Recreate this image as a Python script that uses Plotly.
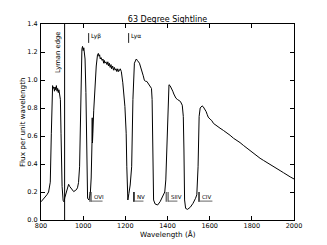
import plotly.graph_objects as go

# Spectrum
wavelength = [800, 812, 820, 828, 836, 844, 849, 852, 855, 858, 861, 864, 867, 870, 873, 876, 879, 882, 885, 888,
              892, 895, 900, 905, 909, 913, 917, 924, 931, 936, 942, 948, 955, 962, 967, 973, 978, 983,
              988, 991, 994, 997, 1000, 1003, 1006, 1009, 1013, 1016, 1021, 1027, 1034, 1038, 1041, 1042,
              1043, 1044, 1046, 1050, 1053, 1056, 1062, 1068, 1072, 1075, 1078, 1081, 1085, 1090, 1094, 1097,
              1100, 1103, 1108, 1113, 1117, 1120, 1124, 1128, 1132, 1135, 1140, 1144, 1148, 1152, 1156, 1160,
              1164, 1168, 1172, 1176, 1181, 1188, 1198, 1204, 1207, 1212, 1217, 1223, 1230, 1236, 1243, 1248,
              1252, 1257, 1262, 1267, 1271, 1276, 1280, 1285, 1290, 1296, 1302, 1307, 1310, 1315, 1320, 1324,
              1327, 1331, 1334, 1341, 1353, 1365, 1378, 1387, 1392, 1397, 1402, 1407, 1412, 1416, 1421, 1425,
              1430, 1435, 1440, 1448, 1455, 1461, 1470, 1475, 1478, 1481, 1486, 1495, 1508, 1521, 1533, 1539,
              1545, 1550, 1555, 1560, 1564, 1569, 1574, 1579, 1583, 1588, 1593, 1602, 1610, 1618, 1630, 1649,
              1665, 1681, 1697, 1713, 1728, 1744, 1760, 1776, 1792, 1807, 1823, 1839, 1855, 1871, 1887, 1902,
              1918, 1934, 1950, 1965, 1982, 2000]
flux = [0.13, 0.15, 0.165, 0.18, 0.20, 0.27, 0.62, 0.93, 0.96, 0.94, 0.95, 0.92, 0.95, 0.93, 0.96, 0.92, 0.94, 0.91, 0.93, 0.90,
        0.86, 0.62, 0.24, 0.14, 0.13, 0.16, 0.18, 0.22, 0.255, 0.24, 0.227, 0.22, 0.203, 0.21, 0.215, 0.23, 0.267, 0.38,
        0.86, 1.10, 1.22, 1.24, 1.21, 1.23, 1.19, 1.15, 0.91, 0.50, 0.155, 0.143, 0.19, 0.30, 0.45, 0.56,
        0.73, 0.55, 0.62, 0.78, 0.86, 1.00, 1.10, 1.18, 1.19, 1.17, 1.18, 1.15, 1.16, 1.14, 1.15, 1.12,
        1.14, 1.12, 1.13, 1.11, 1.13, 1.10, 1.12, 1.09, 1.11, 1.08, 1.10, 1.07, 1.09, 1.07, 1.08, 1.06,
        1.08, 1.06, 1.07, 1.08, 1.06, 0.98, 0.81, 0.62, 0.38, 0.143, 0.19, 0.25, 0.38, 0.86, 1.12, 1.14,
        1.15, 1.14, 1.13, 1.12, 1.10, 1.08, 1.05, 1.03, 1.00, 0.99, 0.99, 0.98, 0.975, 0.965, 0.955, 0.94,
        0.86, 0.50, 0.143, 0.115, 0.107, 0.131, 0.167, 0.20, 0.286, 0.50, 0.86, 0.966, 0.96, 0.95, 0.935, 0.92,
        0.90, 0.88, 0.87, 0.86, 0.855, 0.847, 0.82, 0.74, 0.50, 0.143, 0.083, 0.076, 0.091, 0.119, 0.155, 0.18,
        0.38, 0.74, 0.80, 0.81, 0.815, 0.81, 0.80, 0.79, 0.775, 0.755, 0.735, 0.72, 0.71, 0.69, 0.675, 0.656,
        0.64, 0.625, 0.605, 0.584, 0.57, 0.553, 0.533, 0.513, 0.495, 0.477, 0.46, 0.441, 0.426, 0.41, 0.395, 0.38,
        0.366, 0.353, 0.338, 0.322, 0.308, 0.293]

x_ticks = [800, 1000, 1200, 1400, 1600, 1800, 2000]
y_ticks = [0.0, 0.2, 0.4, 0.6, 0.8, 1.0, 1.2, 1.4]

# Annotated features
lyman_edge = 912.0
lyman_lines = ["Ly\u03b2", "Ly\u03b1"]
lyman_waves = [1026.0, 1215.7]
lyman_tick_range = [1.265, 1.335]
lyman_label_y = 1.315

doublet_names = ["OVI", "NV", "SIIV", "CIV"]
doublet_waves = [(1031.9, 1037.6), (1238.8, 1242.8), (1393.8, 1402.8), (1548.2, 1550.8)]
doublet_bar_end = [1092, 1286, 1447, 1613]
doublet_tick_range = [0.13, 0.20]
doublet_label_y = 0.165

fig = go.Figure()
fig.add_trace(go.Scatter(x=wavelength, y=flux, mode="lines",
                         line=dict(color="black", width=1), showlegend=False, hoverinfo="skip"))

shapes = [dict(type="line", xref="x", yref="paper", x0=lyman_edge, x1=lyman_edge, y0=0, y1=1,
               line=dict(color="black", width=1))]
annotations = [dict(x=lyman_edge - 3, y=1.2, xref="x", yref="y", text="Lyman edge", textangle=-90,
                    showarrow=False, xanchor="right", yanchor="middle",
                    font=dict(size=6.8, color="black", family="DejaVu Sans"))]

for name, w in zip(lyman_lines, lyman_waves):
    shapes.append(dict(type="line", xref="x", yref="y", x0=w, x1=w, y0=lyman_tick_range[0],
                       y1=lyman_tick_range[1], line=dict(color="#222", width=1)))
    annotations.append(dict(x=w + 4, y=lyman_label_y, xref="x", yref="y", text=name, showarrow=False,
                            xanchor="left", yanchor="middle",
                            font=dict(size=6, color="black", family="DejaVu Sans")))

for name, (w1, w2), wend in zip(doublet_names, doublet_waves, doublet_bar_end):
    for w in (w1, w2):
        shapes.append(dict(type="line", xref="x", yref="y", x0=w, x1=w, y0=doublet_tick_range[0],
                           y1=doublet_tick_range[1], line=dict(color="#333", width=1)))
    shapes.append(dict(type="line", xref="x", yref="y", x0=w2, x1=wend, y0=doublet_tick_range[0] + 0.005,
                       y1=doublet_tick_range[0] + 0.005, line=dict(color="#666", width=1)))
    annotations.append(dict(x=w2 + 4, y=doublet_label_y, xref="x", yref="y", text=name, showarrow=False,
                            xanchor="left", yanchor="middle",
                            font=dict(size=5.5, color="black", family="DejaVu Sans")))

# axis titles
annotations.append(dict(x=0.5, y=-0.0765, xref="paper", yref="paper", text="Wavelength (\u00c5)",
                        showarrow=False, xanchor="center", yanchor="middle",
                        font=dict(size=7.2, color="black", family="DejaVu Sans")))
annotations.append(dict(x=-0.075, y=0.5, xref="paper", yref="paper", text="Flux per unit wavelength",
                        textangle=-90, showarrow=False, xanchor="center", yanchor="middle",
                        font=dict(size=7.2, color="black", family="DejaVu Sans")))

axis_common = dict(showline=True, linecolor="black", linewidth=1, mirror="ticks", ticks="inside",
                   ticklen=4, tickcolor="black", tickwidth=1, showgrid=False, zeroline=False,
                   automargin=False,
                   tickfont=dict(size=6.5, color="black", family="DejaVu Sans"))

fig.update_layout(
    width=327, height=245,
    margin=dict(l=41, r=33, t=24, b=25),
    paper_bgcolor="white", plot_bgcolor="white",
    title=dict(text="63 Degree Sightline", x=0.5, xref="paper", y=1 - 19 / 245, yref="container",
               xanchor="center", yanchor="middle",
               font=dict(size=8, color="black", family="DejaVu Sans")),
    xaxis=dict(range=[800, 2000], tickvals=x_ticks, ticktext=[str(v) for v in x_ticks],
               ticklabelstandoff=-1, **axis_common),
    yaxis=dict(range=[0, 1.4], tickvals=y_ticks, ticktext=[f"{v:.1f}" for v in y_ticks],
               ticklabelstandoff=1, **axis_common),
    shapes=shapes, annotations=annotations,
)

fig.write_html("out.html", config={"displayModeBar": False},
               post_script="document.body.style.margin='0';")
